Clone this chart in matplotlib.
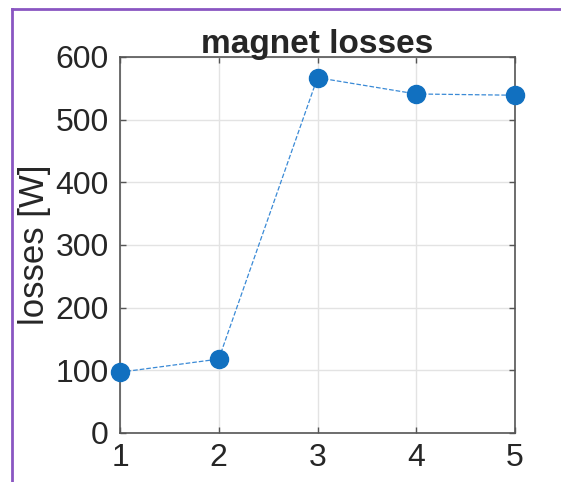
import matplotlib
matplotlib.use("Agg")
import matplotlib.pyplot as plt
from matplotlib.lines import Line2D

plt.rcParams['font.family'] = ['Liberation Sans', 'DejaVu Sans']

x_vals = [1, 2, 3, 4, 5]
losses = [97, 118, 567, 541, 539]
x_ticks = [1, 2, 3, 4, 5]
y_ticks = [0, 100, 200, 300, 400, 500, 600]

W, H = 561, 482
fig = plt.figure(figsize=(W / 100, H / 100), dpi=100)
ax = fig.add_axes([120 / W, 1 - 433 / H, (515 - 120) / W, (433 - 57) / H])

ax.plot(x_vals, losses, linestyle='--', color='#3a8ad6', linewidth=0.9, zorder=3)
ax.plot(x_vals, losses, linestyle='none', marker='o', markersize=13,
        color='#1170c0', zorder=4, clip_on=False)

ax.set_xlim(1, 5)
ax.set_ylim(0, 600)
ax.set_xticks(x_ticks)
ax.set_yticks(y_ticks)
ax.grid(True, color='#e3e3e3', linewidth=1)
ax.set_axisbelow(True)
for s in ax.spines.values():
    s.set_color('#555555')
    s.set_linewidth(1.2)
ax.tick_params(direction='in', length=4, width=1, colors='#555555',
               labelcolor='#262626', labelsize=23, top=True, right=True,
               labeltop=False, labelright=False)
ax.tick_params(axis='x', pad=7)
ax.tick_params(axis='y', pad=8)
ax.set_title('magnet losses', fontsize=24, fontweight='bold', color='#262626', pad=3)
ax.set_ylabel('losses [W]', fontsize=25, color='#262626', labelpad=3)

purple = '#8a56c2'
fig.add_artist(Line2D([12 / W, 12 / W], [0, 1 - 9 / H], color=purple, linewidth=2,
                      transform=fig.transFigure))
fig.add_artist(Line2D([12 / W, 1], [1 - 9 / H, 1 - 9 / H], color=purple, linewidth=2,
                      transform=fig.transFigure))

fig.savefig('out.png', dpi=100, facecolor='white')
